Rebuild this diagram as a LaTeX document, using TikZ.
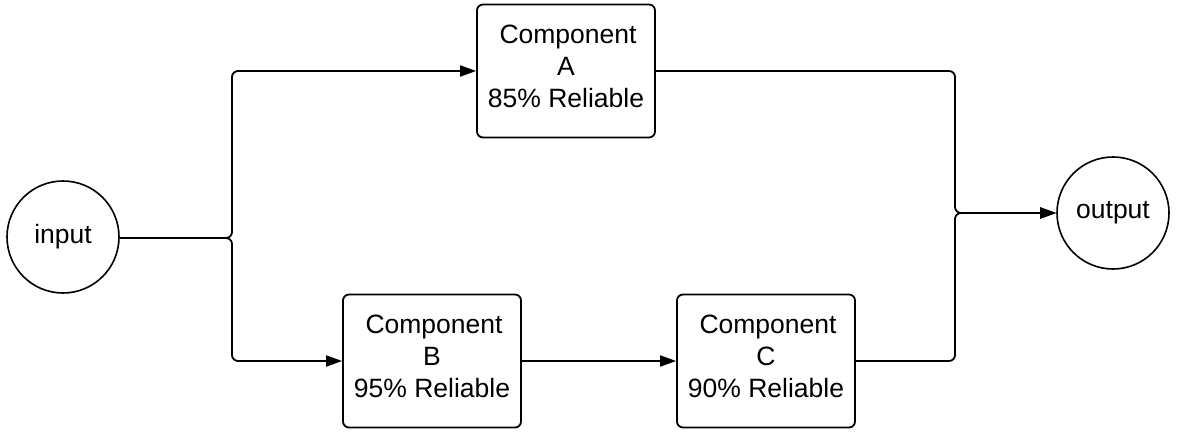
\documentclass[tikz,border=0pt]{standalone}
\usepackage{fontspec}
\setmainfont{Liberation Sans}
\usetikzlibrary{arrows.meta}
\newcommand\comptext[1]{\raisebox{2pt}[\height][\depth]{\begin{tabular}{@{}c@{}}#1\end{tabular}}}
\begin{document}
\begin{tikzpicture}[x=1pt,y=-1pt,
  comp/.style={draw,line width=1.8pt,rounded corners=6pt,minimum width=178pt,minimum height=133pt,align=center,inner sep=0pt,font=\fontsize{26.5}{32}\selectfont},
  term/.style={draw,circle,line width=1.6pt,minimum size=112pt,inner sep=0pt,font=\fontsize{26.5}{32}\selectfont},
  wire/.style={line width=1.8pt,rounded corners=6pt},
  arr/.style={wire,-{Triangle[length=16pt,width=11pt]}}]
\useasboundingbox (0,0) rectangle (1177,441);
\node[term] (in) at (63,237) {input};
\node[term] (out) at (1113,213) {output};
\node[comp] (A) at (566,71) {\comptext{\hspace{4pt}Component\\A\\85\% Reliable}};
\node[comp] (B) at (432,361) {\comptext{\hspace{4pt}Component\\B\\95\% Reliable}};
\node[comp] (C) at (766,361) {\comptext{\hspace{4pt}Component\\C\\90\% Reliable}};
\coordinate (j1) at (232,238);
\coordinate (j2) at (955,213);
\draw[arr] (in.east |- j1) -- (j1) |- (A.west);
\draw[arr] (in.east |- j1) -- (j1) |- (B.west);
\draw[arr] (B.east) -- (C.west);
\draw[arr] (A.east) -| (j2) -- (out.west);
\draw[arr] (C.east) -| (j2) -- (out.west);
\end{tikzpicture}
\end{document}
